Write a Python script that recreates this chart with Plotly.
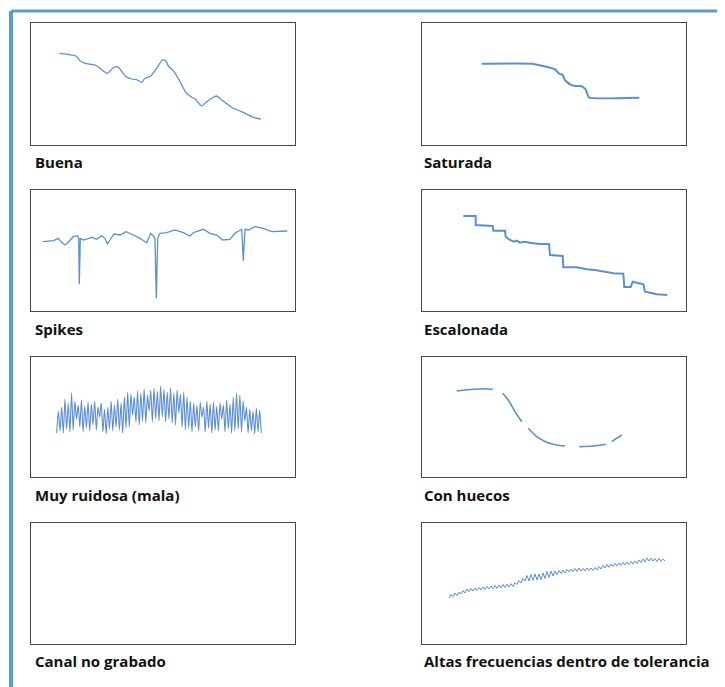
import numpy as np
import plotly.graph_objects as go

W, H = 725, 687          # browser window
OFF = 8                  # page body margin of the html page
FW, FH = W - OFF, H - OFF

# ---------------- data (panel-local units: time, amplitude) ----------------
titles = ["Buena", "Saturada", "Spikes", "Escalonada",
          "Muy ruidosa (mala)", "Con huecos", "Canal no grabado",
          "Altas frecuencias dentro de tolerancia"]

buena_t = [28.3, 45, 49, 54, 64, 69, 76.3, 81.7, 86.3, 89.7, 95, 100.7, 106.3, 110.7, 114,
           119.7, 125.7, 131.3, 134.7, 137.3, 142.3, 149, 155, 160.7, 164, 170.7, 175.7,
           180.7, 185.7, 190.7, 202.3, 210.7, 222.3, 229.7]
buena_v = [91.7, 89, 84.3, 81.7, 80, 76.7, 71.7, 76.7, 78.3, 75, 68.3, 66, 65, 62.7, 66.7,
           69, 76.7, 85, 84.3, 79, 74.3, 63.3, 52.3, 47.7, 46, 39, 43.3, 46.7, 49, 45,
           36.7, 33.3, 27.7, 26]

sat_t = [59.7, 109.7, 133, 137, 140.7, 143, 148, 153, 159.7, 163.7, 167, 217.3]
sat_v = [81.3, 81.3, 75.7, 71.3, 70, 64.7, 60.7, 59, 58.7, 55.7, 47.3, 47.3]

spk_t = [11.7, 22.3, 27.3, 30.7, 34, 37.3, 42.3, 46.3, 47.7, 48.3, 49.3, 52.3, 56.3, 60.7,
         65.7, 70.7, 74, 76.3, 79, 83, 89, 95, 102.3, 109, 115.7, 119.7, 122.3, 124, 125.3,
         126.7, 129, 135.7, 144, 152.3, 159, 162.3, 172.3, 179, 185.7, 191.7, 199, 204,
         210.7, 212.3, 214, 217.3, 224, 232.3, 240.7, 249, 256.3]
spk_v = [69.3, 70.3, 72.7, 68.7, 66, 68.7, 74.3, 75.3, 72.7, 26.7, 72.7, 71, 72, 73.7,
         71.7, 75.3, 72.7, 67, 71, 77, 76, 79.3, 76, 72.7, 68.3, 77.7, 75, 72.7, 12.7,
         72.7, 77.7, 78.3, 81, 78.3, 75, 78.3, 81.7, 77.7, 76, 71, 71.7, 77.7,
         81.7, 50.3, 81.7, 81, 84.3, 82.7, 79.3, 79.3, 80]

esc_t = [41.3, 53.7, 53.7, 70.7, 71.3, 83, 83.7, 88, 92, 94.7, 98, 102, 111.3, 118, 127,
         128, 140.7, 141.3, 154.7, 164.7, 173, 181.3, 191.3, 201.3, 202.3, 208.7, 210.7,
         221.3, 223, 228, 234.7, 245.3]
esc_v = [95, 95, 86, 85, 80.3, 80.3, 74.3, 71, 69.3, 70.3, 68.3, 69.3, 67.7, 67, 67,
         56, 55, 43.7, 43.7, 41.7, 41, 39.3, 37.7, 37.3, 24, 24, 29.3,
         26.7, 19.3, 18.3, 16.7, 16]

ruido_t0, ruido_dt = 25.7, 1.65
ruido_v = [44, 66, 46, 70, 44, 78, 48, 74, 45, 84, 47, 76, 58, 72, 50, 77, 45, 71, 49, 75,
           46, 73, 52, 76, 47, 70, 60, 74, 45, 68, 43, 70, 48, 76, 46, 72, 50, 78, 47, 74,
           44, 80, 49, 85, 50, 83, 62, 80, 55, 86, 52, 84, 56, 88, 54, 82, 66, 87, 55, 89,
           58, 86, 56, 91, 60, 88, 55, 85, 58, 89, 54, 84, 52, 87, 64, 83, 50, 85, 47, 80,
           49, 76, 45, 74, 50, 72, 46, 75, 60, 70, 45, 76, 49, 73, 44, 75, 47, 71, 46, 74,
           58, 72, 45, 77, 48, 73, 44, 80, 46, 84, 48, 82, 45, 76, 56, 70, 44, 68, 46, 66,
           43, 69, 45, 67, 44]

hue_t = [34.7, 51.3, 61.3, 70.7, None, 80.7, 86.3, 93, 99.7, None, 106.3, 114.7, 124.7,
         134.7, 143, None, 157.3, 171.3, 184, None, 189.7, 199.7]
hue_v = [86, 87.7, 88.3, 87.7, None, 83.7, 77, 65.3, 55.3, None, 48.7, 40.3, 34.7,
         32, 31, None, 30.3, 31, 32.7, None, 35.3, 42]

canal_t = []
canal_v = []

alta_t0, alta_dt = 27, 2.0
alta_v = [46, 49.5, 47.5, 51, 48.5, 52, 50, 53.5, 51, 55, 52.5,
          55.5, 53, 56, 53.5, 56.5, 54, 57, 54.5, 57.5, 55, 58,
          55.2, 58.5, 55.5, 59, 56, 59.5, 56.5, 60, 57, 60.3,
          57.5, 61.5, 59.5, 63.5, 61, 65.5, 63,
          68.5, 63, 69.5, 63.5, 70, 64, 70,
          64.5, 71, 65.5, 72.5, 66.5, 73, 68,
          73, 69.5, 73.5, 70.5, 74, 71, 74.5, 72, 75, 72.5,
          75.5, 72.5, 76, 73, 75.5, 73, 76, 73.5, 76, 73.5,
          76.5, 74, 77.5, 75, 78.5, 76, 79.5, 76.5, 80, 77.5,
          80.5, 78, 81, 78.5, 81.5, 79, 82, 79.5, 82.5, 80,
          83, 80.5, 84, 81.5, 85, 82, 86, 83,
          86, 83, 85.5, 82.5, 85.5, 82.5, 85, 83]

ruido_t = [ruido_t0 + i * ruido_dt for i in range(len(ruido_v))]
alta_t = [alta_t0 + i * alta_dt for i in range(len(alta_v))]

# ---------------- layout geometry (window pixels) ----------------
cols = [(31, 295), (422, 686)]
rows = [(23, 145), (190, 311), (357, 477), (523, 644)]
label_y = [162, 329, 495, 661]
label_x = [33, 422]


def px(x):
    return (x - OFF) / FW


def py(y):
    return 1 - (y - OFF) / FH


series = [
    (buena_t, buena_v, 1.3, "spline", 0.6),
    (sat_t, sat_v, 2.0, "spline", 0.3),
    (spk_t, spk_v, 1.3, "linear", 0),
    (esc_t, esc_v, 2.0, "linear", 0),
    (ruido_t, ruido_v, 1.1, "spline", 0.6),
    (hue_t, hue_v, 1.6, "spline", 0.6),
    (canal_t, canal_v, 1.3, "linear", 0),
    (alta_t, alta_v, 1.0, "linear", 0),
]

LINE = "#5B8ED7"
fig = go.Figure()
annotations = []
for k, (t, v, lw, shape, sm) in enumerate(series):
    r, c = divmod(k, 2)
    ax = "" if k == 0 else str(k + 1)
    x0, x1 = cols[c]
    y0, y1 = rows[r]
    line = dict(color=LINE, width=lw, shape=shape)
    if shape == "spline":
        line["smoothing"] = sm
    fig.add_trace(go.Scatter(
        x=t, y=v, mode="lines", xaxis="x" + ax, yaxis="y" + ax, line=line,
        connectgaps=False, showlegend=False, hoverinfo="skip"))
    common = dict(showgrid=False, zeroline=False, showticklabels=False, ticks="",
                  showline=True, linecolor="#474747", linewidth=1.4, mirror=True,
                  fixedrange=True)
    fig.update_layout(**{
        "xaxis" + ax: dict(domain=[px(x0), px(x1)], range=[0, x1 - x0],
                           anchor="y" + ax, **common),
        "yaxis" + ax: dict(domain=[py(y1), py(y0)], range=[0, y1 - y0],
                           anchor="x" + ax, **common),
    })
    annotations.append(dict(
        text="<b>%s</b>" % titles[k], xref="paper", yref="paper",
        x=px(label_x[c]), y=py(label_y[r]), xanchor="left", yanchor="middle",
        showarrow=False, font=dict(family="Open Sans", size=15, color="#111111")))

BORDER = "#5B9BD5"
shapes = [
    dict(type="line", xref="paper", yref="paper", x0=px(11), x1=1.02,
         y0=py(11), y1=py(11), line=dict(color=BORDER, width=3)),
    dict(type="line", xref="paper", yref="paper", x0=px(11), x1=px(11),
         y0=-0.02, y1=py(11), line=dict(color=BORDER, width=4)),
]

fig.update_layout(width=FW, height=FH, margin=dict(l=0, r=0, t=0, b=0),
                  paper_bgcolor="white", plot_bgcolor="white",
                  annotations=annotations, shapes=shapes)

fig.write_html("out.html")
